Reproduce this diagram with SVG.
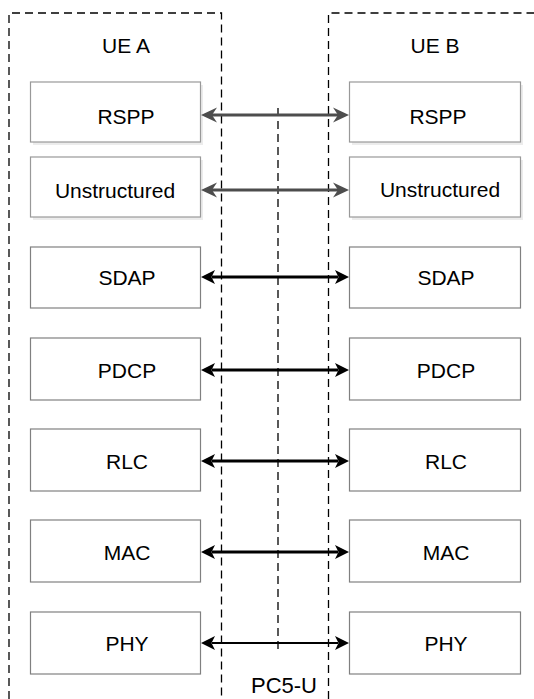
<svg xmlns="http://www.w3.org/2000/svg" width="534" height="699" viewBox="0 0 534 699">
<style>
.dash{fill:none;stroke:#000;stroke-width:1.3;stroke-dasharray:8 5}
.box{fill:#fff;stroke:#808080;stroke-width:1.2}
.boxg{fill:#fff;stroke:#999;stroke-width:1.2}
.shadow{fill:#ececec}
.lbl{font-family:"Liberation Sans",Arial,sans-serif;font-size:21px;fill:#000;text-anchor:middle}
.ag{stroke:#4d4d4d;stroke-width:3.2;fill:none}
.ab{stroke:#000;stroke-width:3;fill:none}
.ab2{stroke:#000;stroke-width:2.2;fill:none}
</style>
<defs>
<marker id="mg" markerUnits="userSpaceOnUse" markerWidth="40" markerHeight="40" refX="0" refY="0" orient="auto-start-reverse" overflow="visible">
<path d="M11,0 L-5,-7.5 L0,0 L-5,7.5 Z" fill="#4d4d4d"/>
</marker>
<marker id="mb" markerUnits="userSpaceOnUse" markerWidth="40" markerHeight="40" refX="0" refY="0" orient="auto-start-reverse" overflow="visible">
<path d="M11,0 L-3,-7 L0.5,0 L-3,7 Z" fill="#000"/>
</marker>
</defs>
<g id="containers">
<path class="dash" d="M9,699 V13 H221.5 V699"/>
<path class="dash" d="M328.5,699 V13 H534"/>
<path class="dash" d="M278,108 V654"/>
</g>
<g id="ue-a-label"><text class="lbl" x="126" y="53">UE A</text></g>
<g id="ue-b-label"><text class="lbl" x="435" y="53">UE B</text></g>
<g id="pc5u-label"><text class="lbl" x="284" y="693" style="font-size:22px">PC5-U</text></g>
<g id="a-rspp"><rect class="shadow" x="33" y="85" width="170" height="60"/><rect class="boxg" x="30.5" y="82" width="170" height="60"/><text class="lbl" x="126" y="124">RSPP</text></g>
<g id="b-rspp"><rect class="shadow" x="352" y="85" width="171" height="60"/><rect class="boxg" x="349.5" y="82" width="171" height="60"/><text class="lbl" x="438" y="124">RSPP</text></g>
<g id="a-unstructured"><rect class="shadow" x="33" y="160" width="170" height="60"/><rect class="boxg" x="30.5" y="157" width="170" height="60"/><text class="lbl" x="115" y="198">Unstructured</text></g>
<g id="b-unstructured"><rect class="shadow" x="352" y="160" width="171" height="60"/><rect class="boxg" x="349.5" y="157" width="171" height="60"/><text class="lbl" x="440" y="197">Unstructured</text></g>
<g id="a-sdap"><rect class="box" x="30.5" y="247" width="170" height="61"/><text class="lbl" x="127" y="285">SDAP</text></g>
<g id="b-sdap"><rect class="box" x="349.5" y="247" width="171" height="61"/><text class="lbl" x="446" y="285">SDAP</text></g>
<g id="a-pdcp"><rect class="box" x="30.5" y="338" width="170" height="62"/><text class="lbl" x="127" y="378">PDCP</text></g>
<g id="b-pdcp"><rect class="box" x="349.5" y="338" width="171" height="62"/><text class="lbl" x="446" y="378">PDCP</text></g>
<g id="a-rlc"><rect class="box" x="30.5" y="429" width="170" height="62"/><text class="lbl" x="127" y="469">RLC</text></g>
<g id="b-rlc"><rect class="box" x="349.5" y="429" width="171" height="62"/><text class="lbl" x="446" y="469">RLC</text></g>
<g id="a-mac"><rect class="box" x="30.5" y="520" width="170" height="62"/><text class="lbl" x="127" y="560">MAC</text></g>
<g id="b-mac"><rect class="box" x="349.5" y="520" width="171" height="62"/><text class="lbl" x="446" y="560">MAC</text></g>
<g id="a-phy"><rect class="box" x="30.5" y="612" width="170" height="62"/><text class="lbl" x="127" y="651">PHY</text></g>
<g id="b-phy"><rect class="box" x="349.5" y="612" width="171" height="62"/><text class="lbl" x="446" y="651">PHY</text></g>
<g id="connectors">
<line class="ag" x1="212" y1="115" x2="338" y2="115" marker-start="url(#mg)" marker-end="url(#mg)"/>
<line class="ag" x1="212" y1="190" x2="338" y2="190" marker-start="url(#mg)" marker-end="url(#mg)"/>
<line class="ab" x1="212" y1="277" x2="338" y2="277" marker-start="url(#mb)" marker-end="url(#mb)"/>
<line class="ab" x1="212" y1="370" x2="338" y2="370" marker-start="url(#mb)" marker-end="url(#mb)"/>
<line class="ab" x1="212" y1="461" x2="338" y2="461" marker-start="url(#mb)" marker-end="url(#mb)"/>
<line class="ab" x1="212" y1="552" x2="338" y2="552" marker-start="url(#mb)" marker-end="url(#mb)"/>
<line class="ab2" x1="212" y1="643" x2="338" y2="643" marker-start="url(#mb)" marker-end="url(#mb)"/>
</g>
</svg>
